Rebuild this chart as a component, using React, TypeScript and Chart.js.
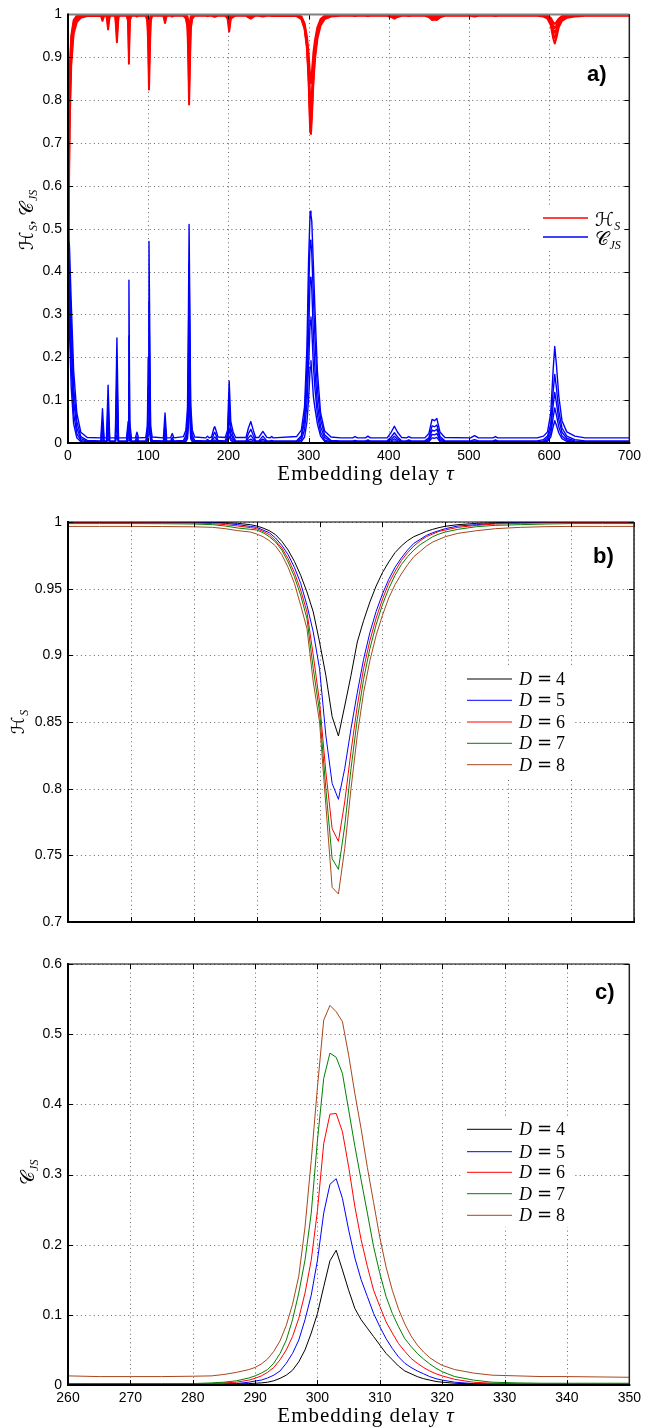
import React, { useEffect, useRef } from "react";
import { Chart, registerables } from "chart.js";

Chart.register(...registerables);

const W = 646;

// ---------------- Panel a: full delay range ----------------
const TAU_A = [
  0, 1, 2, 4, 7, 11, 16, 24,
  41, 43, 45,
  48, 50, 52,
  59, 61, 63,
  73, 75, 76, 77, 79,
  84, 86, 88,
  97, 99, 100, 101, 103, 105,
  119, 121, 123,
  128, 130, 132,
  144, 147, 149, 150, 151, 153, 155, 158,
  172, 174, 176,
  179, 182, 183, 184, 187,
  196, 199, 201, 203, 206, 209,
  222, 225, 228, 231, 234,
  238, 243, 248,
  252, 254, 256,
  285, 291, 295, 298, 300, 302, 303, 304, 306, 308, 311, 315, 320, 328, 340,
  355, 358, 361,
  371, 374, 377,
  398, 403, 407, 411, 416,
  422, 425, 428,
  445, 450, 454, 457, 460, 464, 470,
  502, 507, 512,
  530, 533, 536,
  585, 593, 598, 602, 605, 607, 609, 612, 616, 622, 632, 645,
  700,
];

const CJS_A_D8 = [
  0.5, 0.49, 0.45, 0.33, 0.17, 0.07, 0.025, 0.013,
  0.012, 0.08, 0.012,
  0.012, 0.135, 0.012,
  0.012, 0.245, 0.012,
  0.012, 0.05, 0.38, 0.05, 0.012,
  0.012, 0.025, 0.012,
  0.013, 0.04, 0.2, 0.47, 0.04, 0.014,
  0.012, 0.07, 0.012,
  0.012, 0.022, 0.012,
  0.015, 0.03, 0.08, 0.25, 0.51, 0.09, 0.03, 0.014,
  0.012, 0.016, 0.012,
  0.014, 0.035, 0.038, 0.033, 0.014,
  0.013, 0.03, 0.145, 0.05, 0.025, 0.013,
  0.013, 0.035, 0.05, 0.03, 0.013,
  0.013, 0.027, 0.013,
  0.012, 0.015, 0.012,
  0.015, 0.03, 0.085, 0.225, 0.425, 0.541, 0.532, 0.518, 0.415, 0.31, 0.168, 0.07, 0.028, 0.014, 0.012,
  0.012, 0.015, 0.012,
  0.012, 0.016, 0.012,
  0.012, 0.025, 0.039, 0.025, 0.013,
  0.012, 0.015, 0.012,
  0.012, 0.022, 0.055, 0.052, 0.057, 0.025, 0.013,
  0.012, 0.017, 0.012,
  0.012, 0.015, 0.012,
  0.012, 0.016, 0.026, 0.07, 0.17, 0.225, 0.185, 0.11, 0.052, 0.026, 0.016, 0.012,
  0.012,
];

const CJS_A_D7 = [
  0.46, 0.45, 0.4, 0.28, 0.13, 0.05, 0.015, 0.006,
  0.005, 0.05, 0.005,
  0.005, 0.09, 0.005,
  0.005, 0.16, 0.005,
  0.005, 0.035, 0.25, 0.035, 0.005,
  0.005, 0.015, 0.005,
  0.005, 0.025, 0.13, 0.33, 0.025, 0.006,
  0.005, 0.045, 0.005,
  0.005, 0.013, 0.005,
  0.006, 0.018, 0.055, 0.18, 0.42, 0.06, 0.018, 0.006,
  0.005, 0.008, 0.005,
  0.006, 0.022, 0.025, 0.021, 0.006,
  0.005, 0.02, 0.1, 0.035, 0.015, 0.005,
  0.005, 0.022, 0.032, 0.018, 0.005,
  0.005, 0.016, 0.005,
  0.005, 0.006, 0.005,
  0.005, 0.017, 0.064, 0.178, 0.349, 0.473, 0.467, 0.444, 0.34, 0.245, 0.126, 0.055, 0.019, 0.006, 0.005,
  0.005, 0.006, 0.005,
  0.005, 0.007, 0.005,
  0.005, 0.014, 0.024, 0.014, 0.005,
  0.005, 0.007, 0.005,
  0.005, 0.012, 0.04, 0.038, 0.042, 0.015, 0.005,
  0.005, 0.008, 0.005,
  0.005, 0.007, 0.005,
  0.005, 0.008, 0.016, 0.045, 0.12, 0.16, 0.13, 0.075, 0.035, 0.016, 0.008, 0.005,
  0.005,
];

const CJS_A_D6 = [
  0.42, 0.4, 0.35, 0.23, 0.1, 0.035, 0.01, 0.004,
  0.003, 0.03, 0.003,
  0.003, 0.05, 0.003,
  0.003, 0.09, 0.003,
  0.003, 0.022, 0.14, 0.022, 0.003,
  0.003, 0.008, 0.003,
  0.003, 0.015, 0.08, 0.2, 0.015, 0.004,
  0.003, 0.025, 0.003,
  0.003, 0.007, 0.003,
  0.004, 0.01, 0.035, 0.12, 0.32, 0.04, 0.01, 0.004,
  0.003, 0.005, 0.003,
  0.004, 0.012, 0.014, 0.012, 0.004,
  0.003, 0.012, 0.065, 0.022, 0.009, 0.003,
  0.003, 0.012, 0.018, 0.01, 0.003,
  0.003, 0.009, 0.003,
  0.003, 0.003, 0.003,
  0.003, 0.013, 0.05, 0.131, 0.249, 0.386, 0.387, 0.361, 0.254, 0.169, 0.09, 0.038, 0.013, 0.004, 0.003,
  0.003, 0.004, 0.003,
  0.003, 0.004, 0.003,
  0.003, 0.009, 0.016, 0.009, 0.003,
  0.003, 0.004, 0.003,
  0.003, 0.008, 0.03, 0.028, 0.032, 0.01, 0.003,
  0.003, 0.005, 0.003,
  0.003, 0.004, 0.003,
  0.003, 0.005, 0.011, 0.032, 0.088, 0.118, 0.095, 0.055, 0.025, 0.011, 0.005, 0.003,
  0.003,
];

const CJS_A_D5 = [
  0.38, 0.36, 0.3, 0.18, 0.07, 0.022, 0.006, 0.002,
  0.002, 0.015, 0.002,
  0.002, 0.025, 0.002,
  0.002, 0.045, 0.002,
  0.002, 0.012, 0.07, 0.012, 0.002,
  0.002, 0.004, 0.002,
  0.002, 0.008, 0.045, 0.11, 0.008, 0.002,
  0.002, 0.012, 0.002,
  0.002, 0.004, 0.002,
  0.002, 0.005, 0.02, 0.07, 0.21, 0.02, 0.005, 0.002,
  0.002, 0.003, 0.002,
  0.002, 0.006, 0.007, 0.006, 0.002,
  0.002, 0.006, 0.035, 0.012, 0.005, 0.002,
  0.002, 0.006, 0.009, 0.005, 0.002,
  0.002, 0.005, 0.002,
  0.002, 0.002, 0.002,
  0.002, 0.007, 0.031, 0.093, 0.178, 0.286, 0.294, 0.266, 0.181, 0.126, 0.066, 0.025, 0.007, 0.002, 0.002,
  0.002, 0.002, 0.002,
  0.002, 0.002, 0.002,
  0.002, 0.005, 0.01, 0.005, 0.002,
  0.002, 0.002, 0.002,
  0.002, 0.005, 0.02, 0.019, 0.022, 0.006, 0.002,
  0.002, 0.003, 0.002,
  0.002, 0.002, 0.002,
  0.002, 0.003, 0.007, 0.022, 0.06, 0.082, 0.066, 0.038, 0.016, 0.007, 0.003, 0.002,
  0.002,
];

const CJS_A_D4 = [
  0.34, 0.31, 0.25, 0.13, 0.045, 0.012, 0.003, 0.001,
  0.001, 0.006, 0.001,
  0.001, 0.01, 0.001,
  0.001, 0.018, 0.001,
  0.001, 0.005, 0.03, 0.005, 0.001,
  0.001, 0.002, 0.001,
  0.001, 0.004, 0.02, 0.05, 0.004, 0.001,
  0.001, 0.005, 0.001,
  0.001, 0.002, 0.001,
  0.001, 0.003, 0.01, 0.035, 0.12, 0.01, 0.003, 0.001,
  0.001, 0.0015, 0.001,
  0.001, 0.003, 0.003, 0.003, 0.001,
  0.001, 0.003, 0.016, 0.006, 0.002, 0.001,
  0.001, 0.003, 0.004, 0.002, 0.001,
  0.001, 0.002, 0.001,
  0.001, 0.001, 0.001,
  0.001, 0.003, 0.014, 0.05, 0.102, 0.177, 0.192, 0.164, 0.109, 0.081, 0.045, 0.016, 0.004, 0.001, 0.001,
  0.001, 0.001, 0.001,
  0.001, 0.001, 0.001,
  0.001, 0.003, 0.005, 0.003, 0.001,
  0.001, 0.001, 0.001,
  0.001, 0.003, 0.012, 0.011, 0.013, 0.003, 0.001,
  0.001, 0.0015, 0.001,
  0.001, 0.001, 0.001,
  0.001, 0.002, 0.004, 0.014, 0.038, 0.052, 0.042, 0.024, 0.01, 0.004, 0.002, 0.001,
  0.001,
];

const HS_A_D8 = [
  0.47, 0.55, 0.74, 0.88, 0.955, 0.982, 0.992, 0.996,
  0.997, 0.985, 0.997,
  0.997, 0.965, 0.997,
  0.997, 0.935, 0.997,
  0.997, 0.985, 0.885, 0.985, 0.997,
  0.997, 0.995, 0.997,
  0.997, 0.985, 0.93, 0.825, 0.985, 0.997,
  0.997, 0.98, 0.997,
  0.997, 0.995, 0.997,
  0.997, 0.99, 0.97, 0.9, 0.79, 0.965, 0.99, 0.997,
  0.997, 0.996, 0.997,
  0.997, 0.995, 0.994, 0.995, 0.997,
  0.997, 0.99, 0.96, 0.99, 0.994, 0.997,
  0.997, 0.993, 0.99, 0.994, 0.997,
  0.997, 0.995, 0.997,
  0.997, 0.996, 0.997,
  0.996, 0.989, 0.966, 0.92, 0.85, 0.726, 0.721, 0.755, 0.84, 0.896, 0.943, 0.974, 0.989, 0.995, 0.997,
  0.997, 0.996, 0.997,
  0.997, 0.996, 0.997,
  0.997, 0.994, 0.99, 0.994, 0.997,
  0.997, 0.996, 0.997,
  0.997, 0.994, 0.987, 0.988, 0.987, 0.993, 0.997,
  0.997, 0.995, 0.997,
  0.997, 0.996, 0.997,
  0.997, 0.995, 0.99, 0.975, 0.945, 0.932, 0.945, 0.97, 0.985, 0.992, 0.995, 0.997,
  0.997,
];

const HS_A_D7 = [
  0.5, 0.59, 0.77, 0.9, 0.965, 0.988, 0.995, 0.998,
  0.998, 0.99, 0.998,
  0.998, 0.975, 0.998,
  0.998, 0.955, 0.998,
  0.998, 0.99, 0.915, 0.99, 0.998,
  0.998, 0.997, 0.998,
  0.998, 0.99, 0.95, 0.87, 0.99, 0.998,
  0.998, 0.986, 0.998,
  0.998, 0.996, 0.998,
  0.998, 0.993, 0.978, 0.925, 0.83, 0.975, 0.993, 0.998,
  0.998, 0.997, 0.998,
  0.998, 0.996, 0.996, 0.996, 0.998,
  0.998, 0.993, 0.972, 0.993, 0.996, 0.998,
  0.998, 0.995, 0.993, 0.996, 0.998,
  0.998, 0.996, 0.998,
  0.998, 0.998, 0.998,
  0.997, 0.992, 0.97, 0.9275, 0.8575, 0.7475, 0.7395, 0.772, 0.852, 0.905, 0.95, 0.979, 0.9925, 0.9975, 0.998,
  0.998, 0.997, 0.998,
  0.998, 0.997, 0.998,
  0.998, 0.996, 0.993, 0.996, 0.998,
  0.998, 0.997, 0.998,
  0.998, 0.995, 0.99, 0.991, 0.99, 0.995, 0.998,
  0.998, 0.997, 0.998,
  0.998, 0.997, 0.998,
  0.998, 0.996, 0.992, 0.98, 0.955, 0.945, 0.955, 0.976, 0.988, 0.994, 0.997, 0.998,
  0.998,
];

const HS_A_D6 = [
  0.54, 0.63, 0.8, 0.92, 0.972, 0.992, 0.997, 0.999,
  0.999, 0.994, 0.999,
  0.999, 0.985, 0.999,
  0.999, 0.972, 0.999,
  0.999, 0.994, 0.945, 0.994, 0.999,
  0.999, 0.998, 0.999,
  0.999, 0.993, 0.965, 0.91, 0.993, 0.999,
  0.999, 0.991, 0.999,
  0.999, 0.998, 0.999,
  0.999, 0.995, 0.985, 0.95, 0.87, 0.983, 0.995, 0.999,
  0.999, 0.998, 0.999,
  0.999, 0.997, 0.997, 0.997, 0.999,
  0.999, 0.995, 0.982, 0.995, 0.997, 0.999,
  0.999, 0.997, 0.996, 0.997, 0.999,
  0.999, 0.998, 0.999,
  0.999, 0.999, 0.999,
  0.9988, 0.993, 0.9725, 0.9325, 0.865, 0.77, 0.7605, 0.79, 0.862, 0.911, 0.954, 0.982, 0.994, 0.9985, 0.999,
  0.999, 0.999, 0.999,
  0.999, 0.999, 0.999,
  0.999, 0.997, 0.995, 0.997, 0.999,
  0.999, 0.998, 0.999,
  0.999, 0.997, 0.993, 0.994, 0.993, 0.997, 0.999,
  0.999, 0.998, 0.999,
  0.999, 0.999, 0.999,
  0.999, 0.997, 0.994, 0.985, 0.965, 0.957, 0.965, 0.981, 0.991, 0.996, 0.998, 0.999,
  0.999,
];

const HS_A_D5 = [
  0.58, 0.67, 0.83, 0.94, 0.98, 0.995, 0.999, 0.9995,
  0.9995, 0.997, 0.9995,
  0.9995, 0.992, 0.9995,
  0.9995, 0.985, 0.9995,
  0.9995, 0.997, 0.968, 0.997, 0.9995,
  0.9995, 0.999, 0.9995,
  0.9995, 0.996, 0.98, 0.945, 0.996, 0.9995,
  0.9995, 0.995, 0.9995,
  0.9995, 0.999, 0.9995,
  0.9995, 0.997, 0.99, 0.97, 0.915, 0.99, 0.997, 0.9995,
  0.9995, 0.999, 0.9995,
  0.9995, 0.998, 0.998, 0.998, 0.9995,
  0.9995, 0.997, 0.99, 0.997, 0.998, 0.9995,
  0.9995, 0.998, 0.998, 0.998, 0.9995,
  0.9995, 0.999, 0.9995,
  0.9995, 0.9995, 0.9995,
  0.999, 0.994, 0.9755, 0.9375, 0.89, 0.804, 0.792, 0.815, 0.872, 0.917, 0.957, 0.984, 0.995, 0.999, 0.9995,
  0.9995, 0.9995, 0.9995,
  0.9995, 0.9995, 0.9995,
  0.9995, 0.998, 0.997, 0.998, 0.9995,
  0.9995, 0.999, 0.9995,
  0.9995, 0.998, 0.995, 0.996, 0.995, 0.998, 0.9995,
  0.9995, 0.999, 0.9995,
  0.9995, 0.9995, 0.9995,
  0.9995, 0.998, 0.996, 0.989, 0.974, 0.968, 0.974, 0.986, 0.994, 0.997, 0.999, 0.9995,
  0.9995,
];

const HS_A_D4 = [
  0.63, 0.72, 0.86, 0.95, 0.986, 0.997, 1, 1,
  1, 0.999, 1,
  1, 0.997, 1,
  1, 0.993, 1,
  1, 0.999, 0.985, 0.999, 1,
  1, 1, 1,
  1, 0.998, 0.99, 0.97, 0.998, 1,
  1, 0.998, 1,
  1, 1, 1,
  1, 0.999, 0.995, 0.985, 0.95, 0.995, 0.999, 1,
  1, 1, 1,
  1, 0.999, 0.999, 0.999, 1,
  1, 0.999, 0.995, 0.999, 0.999, 1,
  1, 0.999, 0.999, 0.999, 1,
  1, 1, 1,
  1, 1, 1,
  0.9995, 0.9955, 0.979, 0.9475, 0.91, 0.854, 0.8395, 0.862, 0.91, 0.94, 0.97, 0.989, 0.9968, 0.9995, 1,
  1, 1, 1,
  1, 1, 1,
  1, 0.999, 0.998, 0.999, 1,
  1, 1, 1,
  1, 0.999, 0.997, 0.997, 0.997, 0.999, 1,
  1, 1, 1,
  1, 1, 1,
  1, 0.999, 0.997, 0.992, 0.982, 0.978, 0.982, 0.99, 0.996, 0.998, 0.9995, 1,
  1,
];

// ---------------- Panels b and c: zoom around tau = 300 ----------------
const TAU_BC = [
  260, 265, 270, 275, 280, 283, 285, 287, 289,
  290, 291, 292, 293, 294, 295, 296, 297, 298, 299,
  300, 301, 302, 303, 304, 305, 306, 307, 308, 309,
  310, 311, 312, 313, 314, 315, 316, 317, 318, 319, 320,
  322, 325, 328, 332, 336, 340, 345, 350,
];

const HS_D4 = [
  1, 1, 1, 1, 1, 0.9998, 0.9995, 0.999, 0.998,
  0.997, 0.9955, 0.9935, 0.9905, 0.9855, 0.979, 0.9705, 0.96, 0.9475, 0.9325,
  0.91, 0.885, 0.854, 0.8395, 0.862, 0.885, 0.91, 0.926, 0.94, 0.952,
  0.962, 0.97, 0.977, 0.982, 0.986, 0.989, 0.991, 0.993, 0.9945, 0.9958, 0.9968,
  0.998, 0.999, 0.9995, 1, 1, 1, 1, 1,
];
const HS_D5 = [
  1, 1, 1, 0.9999, 0.9998, 0.9995, 0.999, 0.998, 0.9967,
  0.996, 0.994, 0.992, 0.988, 0.9825, 0.9755, 0.966, 0.954, 0.9375, 0.9175,
  0.89, 0.84, 0.804, 0.792, 0.815, 0.845, 0.872, 0.897, 0.917, 0.933,
  0.946, 0.957, 0.966, 0.973, 0.979, 0.984, 0.987, 0.99, 0.992, 0.9935, 0.995,
  0.997, 0.998, 0.999, 0.9995, 0.9998, 1, 1, 1,
];
const HS_D6 = [
  0.9995, 0.9995, 0.9995, 0.9994, 0.9992, 0.9988, 0.998, 0.997, 0.9958,
  0.995, 0.993, 0.9905, 0.986, 0.9805, 0.9725, 0.962, 0.949, 0.9325, 0.9,
  0.865, 0.8125, 0.77, 0.7605, 0.79, 0.828, 0.862, 0.89, 0.911, 0.928,
  0.942, 0.954, 0.963, 0.971, 0.977, 0.982, 0.986, 0.989, 0.991, 0.993, 0.994,
  0.996, 0.9975, 0.9985, 0.999, 0.9993, 0.9995, 0.9995, 0.9995,
];
const HS_D7 = [
  0.9988, 0.9988, 0.9988, 0.9987, 0.9985, 0.998, 0.997, 0.9955, 0.9945,
  0.994, 0.992, 0.989, 0.985, 0.979, 0.97, 0.959, 0.945, 0.9275, 0.89,
  0.8575, 0.8, 0.7475, 0.7395, 0.772, 0.815, 0.852, 0.882, 0.905, 0.923,
  0.938, 0.95, 0.96, 0.968, 0.974, 0.979, 0.983, 0.986, 0.989, 0.991, 0.9925,
  0.9945, 0.9965, 0.9975, 0.998, 0.9985, 0.9988, 0.9988, 0.9988,
];
const HS_D8 = [
  0.9967, 0.9967, 0.9967, 0.9966, 0.9964, 0.996, 0.995, 0.9935, 0.9925,
  0.991, 0.989, 0.986, 0.982, 0.9755, 0.966, 0.954, 0.9375, 0.92, 0.88,
  0.85, 0.7875, 0.726, 0.721, 0.755, 0.8, 0.84, 0.872, 0.896, 0.915,
  0.93, 0.943, 0.953, 0.961, 0.968, 0.974, 0.978, 0.982, 0.985, 0.987, 0.989,
  0.9915, 0.9935, 0.995, 0.996, 0.9965, 0.9967, 0.9967, 0.9967,
];

const CJS_D4 = [
  0.001, 0.001, 0.001, 0.001, 0.001, 0.001, 0.0012, 0.0015, 0.002,
  0.0025, 0.003, 0.004, 0.006, 0.0095, 0.014, 0.021, 0.033, 0.05, 0.074,
  0.102, 0.14, 0.177, 0.192, 0.164, 0.135, 0.109, 0.093, 0.081, 0.069,
  0.057, 0.045, 0.036, 0.027, 0.02, 0.016, 0.012, 0.009, 0.007, 0.005, 0.004,
  0.0025, 0.0015, 0.001, 0.001, 0.001, 0.001, 0.001, 0.001,
];
const CJS_D5 = [
  0.001, 0.001, 0.001, 0.001, 0.001, 0.001, 0.0015, 0.002, 0.004,
  0.0057, 0.007, 0.01, 0.014, 0.02, 0.031, 0.045, 0.064, 0.093, 0.128,
  0.178, 0.245, 0.286, 0.294, 0.266, 0.221, 0.181, 0.15, 0.126, 0.102,
  0.083, 0.066, 0.052, 0.04, 0.031, 0.025, 0.02, 0.016, 0.012, 0.009, 0.007,
  0.004, 0.002, 0.0015, 0.001, 0.001, 0.001, 0.001, 0.001,
];
const CJS_D6 = [
  0.0015, 0.0015, 0.0015, 0.0015, 0.0015, 0.002, 0.003, 0.004, 0.007,
  0.0095, 0.013, 0.018, 0.025, 0.036, 0.05, 0.069, 0.095, 0.131, 0.178,
  0.249, 0.344, 0.386, 0.387, 0.361, 0.311, 0.254, 0.207, 0.169, 0.135,
  0.112, 0.09, 0.074, 0.059, 0.048, 0.038, 0.031, 0.025, 0.02, 0.016, 0.013,
  0.008, 0.004, 0.0025, 0.0018, 0.0015, 0.0015, 0.0015, 0.0015,
];
const CJS_D7 = [
  0.002, 0.002, 0.002, 0.002, 0.002, 0.003, 0.004, 0.006, 0.01,
  0.013, 0.017, 0.022, 0.031, 0.045, 0.064, 0.093, 0.131, 0.178, 0.245,
  0.349, 0.437, 0.473, 0.467, 0.444, 0.392, 0.34, 0.292, 0.245, 0.197,
  0.159, 0.126, 0.102, 0.083, 0.066, 0.055, 0.045, 0.037, 0.03, 0.024, 0.019,
  0.012, 0.007, 0.004, 0.003, 0.0025, 0.0025, 0.0025, 0.0025,
];
const CJS_D8 = [
  0.013, 0.012, 0.012, 0.012, 0.0125, 0.013, 0.015, 0.018, 0.022,
  0.025, 0.03, 0.037, 0.048, 0.063, 0.085, 0.115, 0.155, 0.225, 0.32,
  0.425, 0.52, 0.541, 0.532, 0.518, 0.47, 0.415, 0.365, 0.31, 0.26,
  0.21, 0.168, 0.135, 0.108, 0.087, 0.07, 0.057, 0.047, 0.039, 0.033, 0.028,
  0.022, 0.017, 0.014, 0.013, 0.012, 0.012, 0.0115, 0.011,
];

// ---------------- ticks, labels, colours ----------------
const X_TICKS_A = [0, 100, 200, 300, 400, 500, 600, 700];
const Y_TICKS_A = [0, 0.1, 0.2, 0.3, 0.4, 0.5, 0.6, 0.7, 0.8, 0.9, 1];
const X_TICKS_BC = [260, 270, 280, 290, 300, 310, 320, 330, 340, 350];
const Y_TICKS_B = [0.7, 0.75, 0.8, 0.85, 0.9, 0.95, 1];
const Y_TICKS_C = [0, 0.1, 0.2, 0.3, 0.4, 0.5, 0.6];
const D_LABELS = ["4", "5", "6", "7", "8"];
const D_COLORS = ["#000000", "#0000ff", "#ff0000", "#008000", "#a8461c"];
const RED = "#ff0000";
const BLUE = "#0000ff";
const X_TITLE = "Embedding delay ";
const TAU_SYM = "τ";

const SANS = "'Liberation Sans', Arial, sans-serif";
const SERIF = "'Liberation Serif', 'DejaVu Serif', serif";
const MATH = "'DejaVu Serif', 'DejaVu Sans', serif";

type Seg = { t: string; f: string; dy?: number; dx?: number };

function drawRich(ctx: CanvasRenderingContext2D, segs: Seg[], x: number, y: number, align: "left" | "center") {
  let w = 0;
  for (const s of segs) {
    ctx.font = s.f;
    w += ctx.measureText(s.t).width + (s.dx || 0);
  }
  let cx = align === "center" ? x - w / 2 : x;
  ctx.textAlign = "left";
  ctx.textBaseline = "alphabetic";
  for (const s of segs) {
    ctx.font = s.f;
    cx += s.dx || 0;
    ctx.fillText(s.t, cx, y + (s.dy || 0));
    cx += ctx.measureText(s.t).width;
  }
}

function fmt(v: number) {
  return String(Math.round(v * 1000) / 1000);
}

const pts = (xs: number[], ys: number[]) => xs.map((x, i) => ({ x, y: ys[i] }));

const lineDs = (label: string, xs: number[], ys: number[], color: string, width: number) => ({
  label,
  data: pts(xs, ys),
  borderColor: color,
  backgroundColor: color,
  borderWidth: width,
  pointRadius: 0,
  pointHoverRadius: 0,
  tension: 0,
  fill: false,
  borderJoinStyle: "round",
  borderCapStyle: "round",
});

const hsLabel = (size: number): Seg[] => [
  { t: "ℋ", f: `${size}px ${MATH}` },
  { t: "S", f: `italic ${Math.round(size * 0.65)}px ${SERIF}`, dy: 4, dx: 0.5 },
];
const cjsLabel = (size: number): Seg[] => [
  { t: "𝒞", f: `${size}px ${MATH}` },
  { t: "JS", f: `italic ${Math.round(size * 0.65)}px ${SERIF}`, dy: 4, dx: 0.5 },
];
const dLabel = (d: string): Seg[] => [
  { t: "D", f: `italic 18px ${SERIF}` },
  { t: "=", f: `18px ${MATH}`, dx: 5 },
  { t: d, f: `18px ${SERIF}`, dx: 4 },
];

type LegendItem = { color: string; y: number; segs: Seg[] };
type PanelCfg = {
  key: string;
  top: number;
  height: number;
  padTop: number;
  xAxisH: number;
  xMin: number;
  xMax: number;
  yMin: number;
  yMax: number;
  xTicks: number[];
  yTicks: number[];
  showX: boolean;
  build: () => any[];
  topColor: string;
  label: { t: string; x: number; y: number };
  yTitle: { x: number; y: number; segs: Seg[] };
  xTitleY: number | null;
  legend: { box: [number, number, number, number]; x0: number; x1: number; tx: number; dy: number; lw: number; items: LegendItem[] };
};

function buildA() {
  const hs = [HS_A_D4, HS_A_D5, HS_A_D6, HS_A_D7, HS_A_D8];
  const cjs = [CJS_A_D4, CJS_A_D5, CJS_A_D6, CJS_A_D7, CJS_A_D8];
  return [
    ...hs.map((d, i) => lineDs("H_S D=" + D_LABELS[i], TAU_A, d, RED, 2)),
    ...cjs.map((d, i) => lineDs("C_JS D=" + D_LABELS[i], TAU_A, d, BLUE, 1.4)),
  ];
}
function buildB() {
  const hs = [HS_D4, HS_D5, HS_D6, HS_D7, HS_D8];
  return hs.map((d, i) => lineDs("D = " + D_LABELS[i], TAU_BC, d, D_COLORS[i], 1)).reverse();
}
function buildC() {
  const cjs = [CJS_D4, CJS_D5, CJS_D6, CJS_D7, CJS_D8];
  return cjs.map((d, i) => lineDs("D = " + D_LABELS[i], TAU_BC, d, D_COLORS[i], 1)).reverse();
}

const ROWS_B = [179, 200.3, 222, 243.3, 264.7];
const ROWS_C = [189.3, 211.7, 232.3, 253.7, 275.3];

const PANELS: PanelCfg[] = [
  {
    key: "a", top: 0, height: 490, padTop: 11, xAxisH: 47,
    xMin: 0, xMax: 700, yMin: 0, yMax: 1, xTicks: X_TICKS_A, yTicks: Y_TICKS_A, showX: true,
    build: buildA, topColor: "#808080",
    label: { t: "a)", x: 587, y: 81 },
    yTitle: { x: 33, y: 220, segs: [...hsLabel(19), { t: ", ", f: `19px ${SERIF}` }, ...cjsLabel(19)] },
    xTitleY: 480,
    legend: {
      box: [531, 205, 102, 46], x0: 543, x1: 588, tx: 595, dy: 8, lw: 1.4,
      items: [
        { color: RED, y: 218, segs: hsLabel(19) },
        { color: BLUE, y: 237, segs: cjsLabel(19) },
      ],
    },
  },
  {
    key: "b", top: 500, height: 440, padTop: 22, xAxisH: 18,
    xMin: 260, xMax: 350, yMin: 0.7, yMax: 1, xTicks: X_TICKS_BC, yTicks: Y_TICKS_B, showX: false,
    build: buildB, topColor: "#000000",
    label: { t: "b)", x: 593, y: 63 },
    yTitle: { x: 24, y: 222, segs: hsLabel(18) },
    xTitleY: null,
    legend: {
      box: [461, 167, 112, 110], x0: 467, x1: 512, tx: 519, dy: 6, lw: 1,
      items: D_LABELS.map((d, i) => ({ color: D_COLORS[i], y: ROWS_B[i], segs: dLabel(d) })),
    },
  },
  {
    key: "c", top: 940, height: 487, padTop: 24, xAxisH: 42,
    xMin: 260, xMax: 350, yMin: 0, yMax: 0.6, xTicks: X_TICKS_BC, yTicks: Y_TICKS_C, showX: true,
    build: buildC, topColor: "#000000",
    label: { t: "c)", x: 595, y: 59 },
    yTitle: { x: 34, y: 232.5, segs: cjsLabel(19) },
    xTitleY: 482,
    legend: {
      box: [461, 177, 112, 110], x0: 467, x1: 512, tx: 519, dy: 6, lw: 1,
      items: D_LABELS.map((d, i) => ({ color: D_COLORS[i], y: ROWS_C[i], segs: dLabel(d) })),
    },
  },
];

function makeDecor(cfg: PanelCfg) {
  return {
    id: "decor_" + cfg.key,
    beforeDatasetsDraw(chart: any) {
      const { ctx, chartArea: a } = chart;
      const xs = chart.scales.x;
      const ys = chart.scales.y;
      ctx.save();
      ctx.strokeStyle = "rgba(0,0,0,0.6)";
      ctx.lineWidth = 1;
      ctx.setLineDash([1, 3.3]);
      for (const v of cfg.xTicks) {
        const p = Math.round(xs.getPixelForValue(v)) + 0.5;
        ctx.beginPath();
        ctx.moveTo(p, a.top);
        ctx.lineTo(p, a.bottom);
        ctx.stroke();
      }
      for (const v of cfg.yTicks) {
        const p = Math.round(ys.getPixelForValue(v)) + 0.5;
        ctx.beginPath();
        ctx.moveTo(a.left, p);
        ctx.lineTo(a.right, p);
        ctx.stroke();
      }
      ctx.restore();
    },
    afterDatasetsDraw(chart: any) {
      const { ctx, chartArea: a } = chart;
      const xs = chart.scales.x;
      const ys = chart.scales.y;
      ctx.save();
      ctx.setLineDash([]);
      // legend box and entries
      const lg = cfg.legend;
      ctx.fillStyle = "#ffffff";
      ctx.fillRect(lg.box[0], lg.box[1], lg.box[2], lg.box[3]);
      for (const it of lg.items) {
        ctx.strokeStyle = it.color;
        ctx.lineWidth = lg.lw;
        ctx.beginPath();
        ctx.moveTo(lg.x0, it.y);
        ctx.lineTo(lg.x1, it.y);
        ctx.stroke();
        ctx.fillStyle = "#000";
        drawRich(ctx, it.segs, lg.tx, it.y + lg.dy, "left");
      }
      // inward tick marks
      ctx.strokeStyle = "#000";
      ctx.lineWidth = 1;
      const TL = 5;
      for (const v of cfg.xTicks) {
        const p = Math.round(xs.getPixelForValue(v)) + 0.5;
        ctx.beginPath();
        ctx.moveTo(p, a.bottom);
        ctx.lineTo(p, a.bottom - TL);
        ctx.moveTo(p, a.top);
        ctx.lineTo(p, a.top + TL);
        ctx.stroke();
      }
      for (const v of cfg.yTicks) {
        const p = Math.round(ys.getPixelForValue(v)) + 0.5;
        ctx.beginPath();
        ctx.moveTo(a.left, p);
        ctx.lineTo(a.left + TL, p);
        ctx.moveTo(a.right, p);
        ctx.lineTo(a.right - TL, p);
        ctx.stroke();
      }
      // box
      ctx.strokeStyle = cfg.topColor;
      ctx.lineWidth = cfg.key === "a" ? 2 : 1.2;
      ctx.beginPath();
      ctx.moveTo(a.left, a.top);
      ctx.lineTo(a.right, a.top);
      ctx.stroke();
      ctx.strokeStyle = "#222";
      ctx.lineWidth = 1.5;
      ctx.beginPath();
      ctx.moveTo(a.right, a.top);
      ctx.lineTo(a.right, a.bottom);
      ctx.stroke();
      ctx.strokeStyle = "#000";
      ctx.lineWidth = 2;
      ctx.beginPath();
      ctx.moveTo(a.left, a.top - 1);
      ctx.lineTo(a.left, a.bottom);
      ctx.lineTo(a.right + 1, a.bottom);
      ctx.stroke();
      // panel label
      ctx.fillStyle = "#000";
      ctx.font = `bold 22px ${SANS}`;
      ctx.textAlign = "left";
      ctx.textBaseline = "alphabetic";
      ctx.fillText(cfg.label.t, cfg.label.x, cfg.label.y);
      // x title
      if (cfg.xTitleY !== null) {
        (ctx as any).letterSpacing = "1px";
        drawRich(
          ctx,
          [
            { t: X_TITLE, f: `21px ${SERIF}` },
            { t: TAU_SYM, f: `italic 21px ${SERIF}` },
          ],
          366,
          cfg.xTitleY,
          "center"
        );
        (ctx as any).letterSpacing = "0px";
      }
      // y title (rotated)
      ctx.translate(cfg.yTitle.x, cfg.yTitle.y);
      ctx.rotate(-Math.PI / 2);
      drawRich(ctx, cfg.yTitle.segs, 0, 0, "center");
      ctx.restore();
    },
  };
}

function ChartPanel({ cfg }: { cfg: PanelCfg }) {
  const ref = useRef<HTMLCanvasElement | null>(null);
  useEffect(() => {
    const canvas = ref.current;
    if (!canvas) return;
    const tickFont = { family: SANS, size: 14 };
    const chart = new Chart(canvas, {
      type: "line",
      data: { datasets: cfg.build() },
      options: {
        animation: false,
        responsive: false,
        devicePixelRatio: 1,
        events: [],
        layout: { padding: { left: 0, right: 12, top: cfg.padTop, bottom: 0 } },
        plugins: { legend: { display: false }, tooltip: { enabled: false }, title: { display: false } },
        scales: {
          x: {
            type: "linear",
            min: cfg.xMin,
            max: cfg.xMax,
            afterBuildTicks: (s: any) => {
              s.ticks = cfg.xTicks.map((v) => ({ value: v }));
            },
            afterFit: (s: any) => {
              s.height = cfg.xAxisH;
            },
            grid: { display: false, drawTicks: false },
            border: { display: false },
            ticks: {
              display: cfg.showX,
              padding: 5,
              color: "#000",
              font: tickFont,
              maxRotation: 0,
              minRotation: 0,
              autoSkip: false,
              callback: (v: any) => fmt(Number(v)),
            },
          },
          y: {
            type: "linear",
            min: cfg.yMin,
            max: cfg.yMax,
            afterBuildTicks: (s: any) => {
              s.ticks = cfg.yTicks.map((v) => ({ value: v }));
            },
            afterFit: (s: any) => {
              s.width = 68;
            },
            grid: { display: false, drawTicks: false },
            border: { display: false },
            ticks: {
              padding: 6,
              color: "#000",
              font: tickFont,
              autoSkip: false,
              callback: (v: any) => fmt(Number(v)),
            },
          },
        },
      } as any,
      plugins: [makeDecor(cfg)],
    });
    return () => chart.destroy();
  }, [cfg]);
  return (
    <canvas
      ref={ref}
      width={W}
      height={cfg.height}
      style={{ position: "absolute", left: 0, top: cfg.top, width: W, height: cfg.height, display: "block" }}
    />
  );
}

export default function App() {
  return (
    <div style={{ position: "absolute", left: 0, top: 0, width: W, height: 1427, background: "#ffffff" }}>
      {PANELS.map((p) => (
        <ChartPanel key={p.key} cfg={p} />
      ))}
    </div>
  );
}
